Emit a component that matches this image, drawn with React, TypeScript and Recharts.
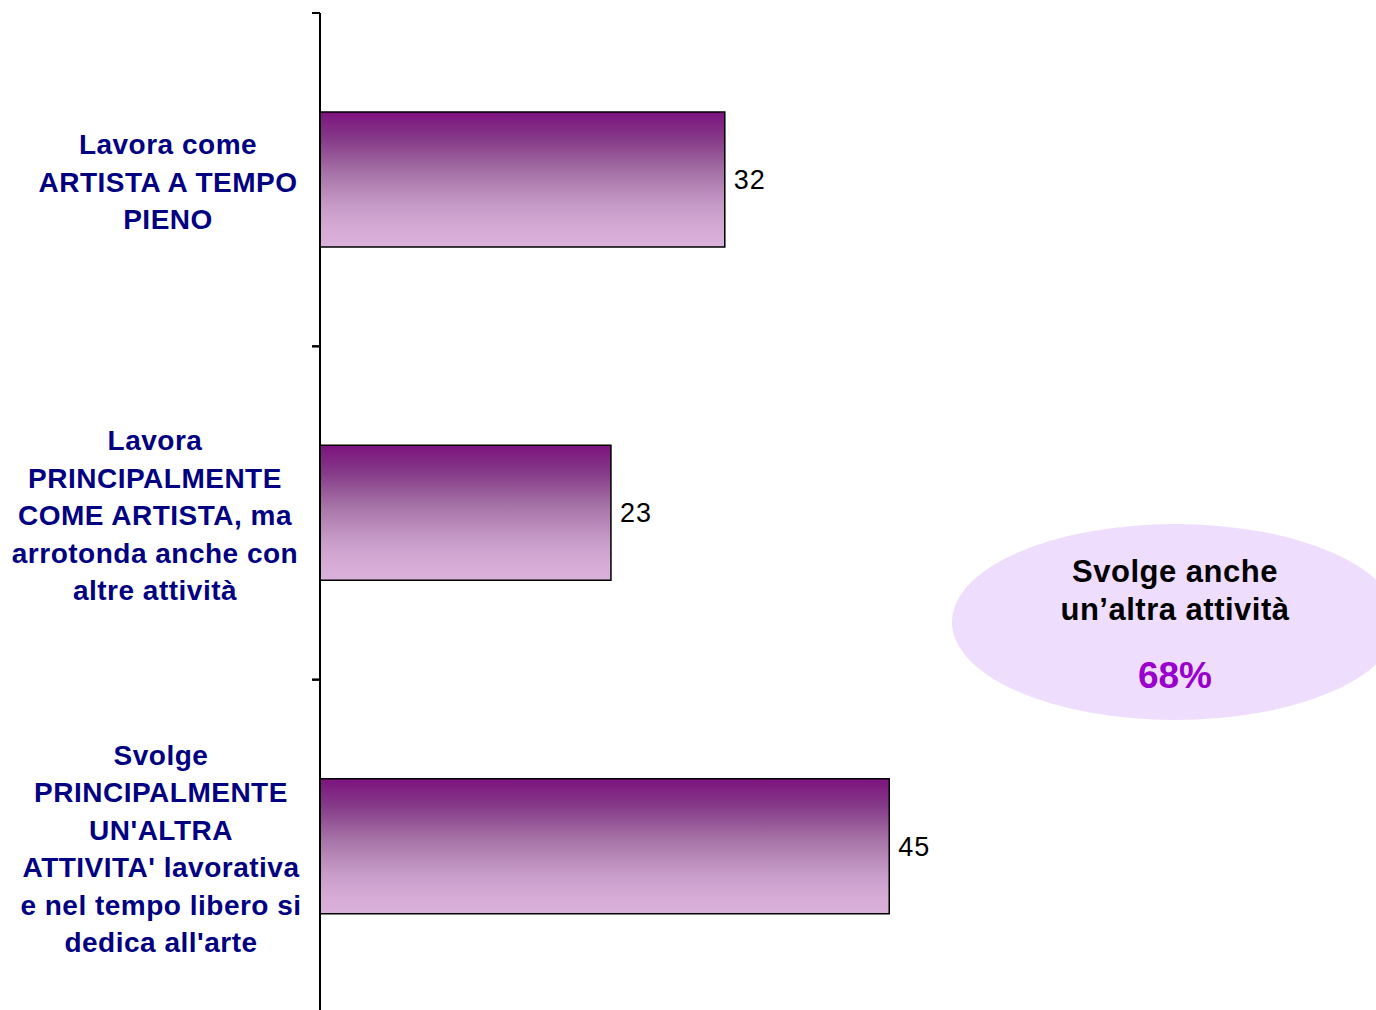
import React from "react";
import { BarChart, Bar, XAxis, YAxis, LabelList } from "recharts";

const categoryLines: string[][] = [
  ["Lavora come", "ARTISTA A TEMPO", "PIENO"],
  ["Lavora", "PRINCIPALMENTE", "COME ARTISTA, ma", "arrotonda anche con", "altre attività"],
  ["Svolge", "PRINCIPALMENTE", "UN'ALTRA", "ATTIVITA' lavorativa", "e nel tempo libero si", "dedica all'arte"],
];
const categoryKeys = ["c1", "c2", "c3"];
const values = [32, 23, 45];
const calloutLines = ["Svolge anche", "un’altra attività"];
const calloutValue = "68%";

const data = categoryKeys.map((k, i) => ({ name: k, value: values[i] }));

const WIDTH = 1376;
const HEIGHT = 1010;
const MARGIN = { top: 13, right: 44, bottom: -3, left: 0 };
const YAXIS_W = 320;
const FONT = "'Liberation Sans', Arial, Helvetica, sans-serif";
const LABEL_CENTERS = [168, 155, 161];
const LINE_H = 37.5;

function CategoryTick(props: any) {
  const { y, payload, index } = props;
  const i = typeof payload?.index === "number" ? payload.index : index;
  const lines = categoryLines[i] || [];
  const plotH = HEIGHT - MARGIN.top - MARGIN.bottom;
  const half = plotH / categoryLines.length / 2;
  const cx = LABEL_CENTERS[i] ?? 160;
  const startY = y + 2.5 - ((lines.length - 1) * LINE_H) / 2;
  return (
    <g>
      <line x1={YAXIS_W - 8} x2={YAXIS_W} y1={y - half} y2={y - half} stroke="#000" strokeWidth={2} />
      <line x1={YAXIS_W - 8} x2={YAXIS_W} y1={y + half} y2={y + half} stroke="#000" strokeWidth={2} />
      <text
        x={cx}
        y={startY}
        textAnchor="middle"
        fill="#000080"
        fontFamily={FONT}
        fontWeight="bold"
        fontSize={28}
        letterSpacing={0.5}
      >
        {lines.map((l, k) => (
          <tspan key={k} x={cx} y={startY + k * LINE_H} dy="0.35em">
            {l}
          </tspan>
        ))}
      </text>
    </g>
  );
}

export default function App() {
  return (
    <div style={{ position: "absolute", left: 0, top: 0, width: WIDTH, height: HEIGHT, overflow: "hidden", background: "#fff" }}>
      <BarChart width={WIDTH} height={HEIGHT} data={data} layout="vertical" margin={MARGIN}>
        <defs>
          <linearGradient id="barGrad" x1="0" y1="0" x2="0" y2="1">
            <stop offset="0%" stopColor="#7D137F" />
            <stop offset="20%" stopColor="#853A88" />
            <stop offset="45%" stopColor="#A673A6" />
            <stop offset="70%" stopColor="#C79BC8" />
            <stop offset="88%" stopColor="#D6ACD6" />
            <stop offset="100%" stopColor="#D9B1DA" />
          </linearGradient>
        </defs>
        <XAxis type="number" domain={[0, 80]} hide />
        <YAxis
          type="category"
          dataKey="name"
          width={YAXIS_W}
          axisLine={{ stroke: "#000", strokeWidth: 2 }}
          tickLine={false}
          tick={<CategoryTick />}
          interval={0}
        />
        <Bar dataKey="value" fill="url(#barGrad)" stroke="#000" strokeWidth={1.5} barSize={135} isAnimationActive={false}>
          <LabelList dataKey="value" position="right" offset={9} fill="#000" fontSize={27} letterSpacing={1} fontFamily={FONT} />
        </Bar>
      </BarChart>
      <svg width={WIDTH} height={HEIGHT} style={{ position: "absolute", left: 0, top: 0, pointerEvents: "none" }}>
        <ellipse cx={1175} cy={622} rx={223} ry={98} fill="#EEDDFC" />
        <text x={1175} y={571} textAnchor="middle" dominantBaseline="central" fontFamily={FONT} fontWeight="bold" fontSize={31} letterSpacing={0.5} fill="#000">
          {calloutLines[0]}
        </text>
        <text x={1175} y={609} textAnchor="middle" dominantBaseline="central" fontFamily={FONT} fontWeight="bold" fontSize={31} letterSpacing={0.5} fill="#000">
          {calloutLines[1]}
        </text>
        <text x={1175} y={675} textAnchor="middle" dominantBaseline="central" fontFamily={FONT} fontWeight="bold" fontSize={37} fill="#9900CC">
          {calloutValue}
        </text>
      </svg>
    </div>
  );
}
